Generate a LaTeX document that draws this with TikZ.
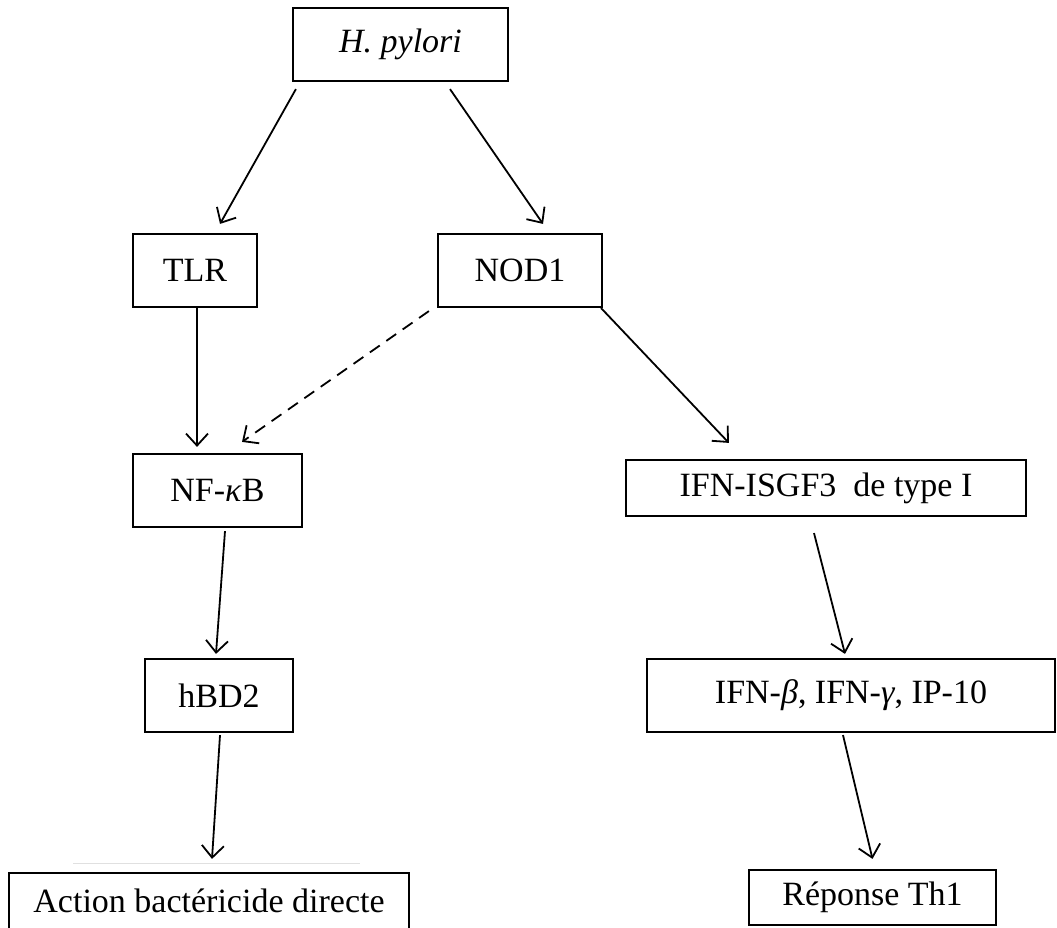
\documentclass[tikz,border=0pt]{standalone}
\usepackage{fontspec}
\setmainfont{Liberation Serif}
\usepackage{tikz}
\usetikzlibrary{arrows.meta}

\begin{document}
\begin{tikzpicture}[x=1pt, y=-1pt,
    font=\fontsize{34}{38}\selectfont,
    box/.style={draw, line width=2.2pt, inner sep=0pt, minimum height=73pt},
    pil/.style={line width=1.8pt, -{Straight Barb[length=12pt, width=22pt, line width=1.8pt]}}]
  \useasboundingbox (0,0) rectangle (1057,927);
  \node[box, minimum width=215pt] (hp)    at (400.5, 44.5) {\textit{H. pylori}};
  \node[box, minimum width=124pt] (tlr)   at (195, 270.5)  {TLR};
  \node[box, minimum width=164pt] (nod)   at (520, 270.5)  {NOD1};
  \node[box, minimum width=169pt] (nfkb)  at (217.5, 490.5) {NF-\textit{κ}B};
  \node[box, minimum width=400pt, minimum height=56pt] (isgf) at (826, 488) {IFN-ISGF3\hspace{0.5em}de type I};
  \node[box, minimum width=148pt] (hbd)   at (219, 695.5)  {hBD2};
  \node[box, minimum width=408pt] (ifnb)  at (851, 695.5)  {IFN-\textit{β}, IFN-\textit{γ}, IP-10};
  \node[box, minimum width=400pt, minimum height=56pt] (action) at (209, 901) {Action bactéricide directe};
  \node[box, minimum width=247pt, minimum height=55pt] (rep) at (872.5, 897.5) {Réponse Th1};
  \draw[black!12, line width=1pt] (73,863) -- (360,863);
  \draw[pil] ([shift={(4,7)}]hp.south west) -- ([shift={(25,-9)}]tlr.north);
  \draw[pil] ([shift={(49.5,7)}]hp.south) -- ([shift={(23,-9)}]nod.north);
  \draw[pil, line width=2.4pt] ([shift={(2,0)}]tlr.south) -- ([shift={(-20.5,-6)}]nfkb.north);
  \draw[pil, dash pattern=on 12pt off 8pt] ([shift={(-8,3)}]nod.south west) -- ([shift={(24.5,-11)}]nfkb.north);
  \draw[pil] ([shift={(-2,0)}]nod.south east) -- ([shift={(104,-16)}]isgf.north west);
  \draw[pil] ([shift={(7.5,3)}]nfkb.south) -- ([shift={(-3,-4)}]hbd.north);
  \draw[pil] ([shift={(-12,16)}]isgf.south) -- ([shift={(-6,-4)}]ifnb.north);
  \draw[pil] ([shift={(1,2)}]hbd.south) -- ([shift={(3,-13)}]action.north);
  \draw[pil] ([shift={(-8,2)}]ifnb.south) -- ([shift={(0,-10)}]rep.north);
\end{tikzpicture}
\end{document}
